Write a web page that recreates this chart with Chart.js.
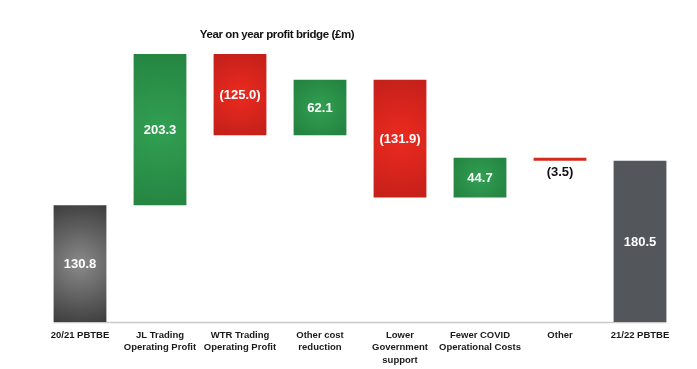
<!DOCTYPE html>
<html>
<head>
<meta charset="utf-8">
<script src="https://cdn.jsdelivr.net/npm/chart.js@4.4.1/dist/chart.umd.min.js"></script>
<style>
    html, body { margin: 0; padding: 0; background: #fff; }
    #wrap { position: relative; width: 697px; height: 369px; }
    #title {
        position: absolute; left: 177px; top: 28px; width: 200px; text-align: center;
        font: bold 11.5px "Liberation Sans", sans-serif; letter-spacing: -0.4px; color: #111;
    }
</style>
</head>
<body>
<div id="wrap">
    <div id="title">Year on year profit bridge (£m)</div>
    <canvas id="bridge" width="697" height="369"></canvas>
</div>
<script>
// bridge data (£m)
var Categories = [
    "20/21 PBTBE",
    ["JL Trading", "Operating Profit"],
    ["WTR Trading", "Operating Profit"],
    ["Other cost", "reduction"],
    ["Lower", "Government", "support"],
    ["Fewer COVID", "Operational Costs"],
    "Other",
    "21/22 PBTBE"
];
var OpeningTotal = 130.8;
var Movements = [203.3, -125.0, 62.1, -131.9, 44.7, -3.5];
var ClosingTotal = 180.5;
var AxisMax = 300;

var FONT = '"Liberation Sans", sans-serif';

// floating bars [from, to] + the number shown on each bar
var Bars = [[0, OpeningTotal]];
var Labels = [OpeningTotal];
var running = OpeningTotal;
for (var i = 0; i < Movements.length; ++i) {
    Bars.push([running, running + Movements[i]]);
    Labels.push(Movements[i]);
    running = running + Movements[i];
}
Bars.push([0, ClosingTotal]);
Labels.push(ClosingTotal);

function fmt(v) {
    return v < 0 ? "(" + Math.abs(v).toFixed(1) + ")" : v.toFixed(1);
}

function barFill(ctx) {
    var chart = ctx.chart;
    var i = ctx.dataIndex;
    var last = Bars.length - 1;
    if (i == last) return '#53565a';
    if (i == last - 1) return '#d42a20';
    var inner, outer;
    if (i == 0) { inner = '#8a8a8a'; outer = '#3d3d3d'; }
    else if (Labels[i] >= 0) { inner = '#31a052'; outer = '#258441'; }
    else { inner = '#ec2a1f'; outer = '#c3201a'; }
    if (!chart.chartArea) return outer;
    var xs = chart.scales.x, ys = chart.scales.y;
    var cx = xs.getPixelForValue(i);
    var top = Math.max(ys.getPixelForValue(Math.max(Bars[i][0], Bars[i][1])), chart.chartArea.top);
    var bot = ys.getPixelForValue(Math.min(Bars[i][0], Bars[i][1]));
    var cy = (top + bot) / 2;
    var r = Math.max(30, (bot - top) / 2 + 5);
    var g = chart.ctx.createRadialGradient(cx, cy, 0, cx, cy, r);
    g.addColorStop(0, inner);
    g.addColorStop(1, outer);
    return g;
}

var bridgeExtras = {
    id: 'bridgeExtras',
    beforeDatasetsDraw: function (chart) {
        var meta = chart.getDatasetMeta(0);
        var first = meta.data[0], lastBar = meta.data[meta.data.length - 1];
        var y0 = chart.scales.y.getPixelForValue(0);
        var c = chart.ctx;
        c.save();
        c.strokeStyle = '#c9c9c9';
        c.lineWidth = 1.5;
        c.beginPath();
        c.moveTo(first.x - first.width / 2, y0 + 0.5);
        c.lineTo(lastBar.x + lastBar.width / 2, y0 + 0.5);
        c.stroke();
        c.restore();
    },
    afterDatasetsDraw: function (chart) {
        var meta = chart.getDatasetMeta(0);
        var area = chart.chartArea;
        var c = chart.ctx;
        c.save();
        c.font = 'bold 13px ' + FONT;
        c.textAlign = 'center';
        c.textBaseline = 'middle';
        meta.data.forEach(function (bar, i) {
            var top = Math.max(Math.min(bar.y, bar.base), area.top);
            var bot = Math.min(Math.max(bar.y, bar.base), area.bottom);
            if (bot - top < 20) {
                c.fillStyle = '#111';
                c.fillText(fmt(Labels[i]), bar.x, bot + 12);
            } else {
                c.fillStyle = '#fff';
                c.fillText(fmt(Labels[i]), bar.x, (top + bot) / 2 + 1);
            }
        });
        c.restore();
    }
};

new Chart(document.getElementById('bridge').getContext('2d'), {
    type: 'bar',
    data: {
        labels: Categories,
        datasets: [{
            data: Bars,
            backgroundColor: barFill,
            borderWidth: 0,
            borderSkipped: false,
            barPercentage: 0.66,
            categoryPercentage: 1
        }]
    },
    options: {
        responsive: false,
        animation: false,
        layout: { padding: { left: 40, right: 17, top: 54, bottom: 0 } },
        plugins: {
            legend: { display: false },
            tooltip: { enabled: false },
            title: { display: false }
        },
        scales: {
            x: {
                grid: { display: false, drawTicks: false },
                border: { display: false },
                afterFit: function (scale) { scale.height = 47; },
                ticks: {
                    autoSkip: false,
                    maxRotation: 0,
                    padding: 7,
                    color: '#1a1a1a',
                    font: { family: FONT, size: 9.5, weight: 'bold', lineHeight: 1.3 }
                }
            },
            y: {
                display: false,
                min: 0,
                max: AxisMax
            }
        }
    },
    plugins: [bridgeExtras]
});
</script>
</body>
</html>
